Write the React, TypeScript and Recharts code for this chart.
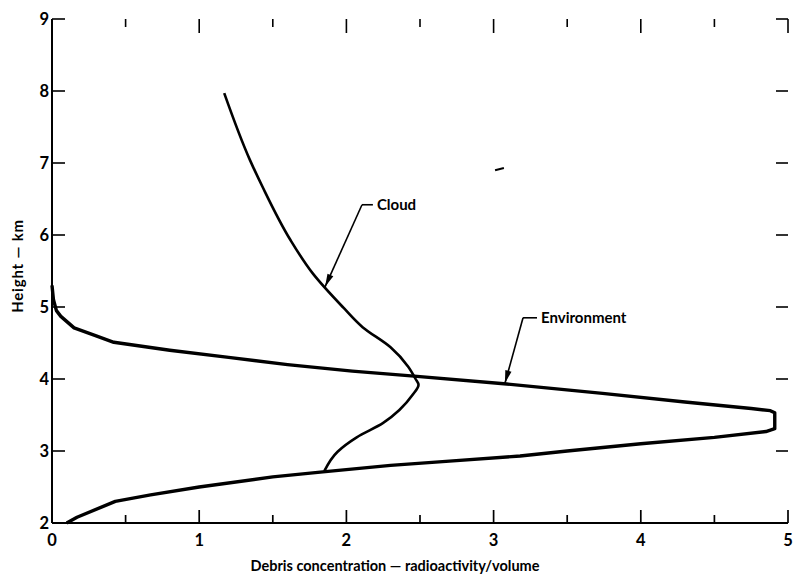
import React from 'react';
import {
  LineChart,
  Line,
  XAxis,
  YAxis,
  ReferenceLine,
  ReferenceDot,
} from 'recharts';

// ---- data ----
const xDomain = [0, 5];
const yDomain = [2, 9];
const xTicks = [0, 0.5, 1, 1.5, 2, 2.5, 3, 3.5, 4, 4.5, 5];
const yTicks = [2, 3, 4, 5, 6, 7, 8, 9];

const environment = [
  { x: 0.0, y: 5.3 }, { x: 0.01, y: 5.1 }, { x: 0.03, y: 4.95 }, { x: 0.06, y: 4.87 },
  { x: 0.15, y: 4.71 }, { x: 0.3, y: 4.6 }, { x: 0.42, y: 4.51 }, { x: 0.8, y: 4.4 },
  { x: 1.2, y: 4.3 }, { x: 1.6, y: 4.2 }, { x: 2.04, y: 4.11 }, { x: 2.46, y: 4.04 },
  { x: 3.09, y: 3.93 }, { x: 3.74, y: 3.8 }, { x: 4.3, y: 3.68 }, { x: 4.75, y: 3.59 },
  { x: 4.88, y: 3.56 }, { x: 4.91, y: 3.53 }, { x: 4.91, y: 3.31 }, { x: 4.85, y: 3.27 },
  { x: 4.5, y: 3.19 }, { x: 4.0, y: 3.1 }, { x: 3.5, y: 3.0 }, { x: 3.18, y: 2.93 },
  { x: 2.7, y: 2.86 }, { x: 2.3, y: 2.8 }, { x: 1.84, y: 2.71 }, { x: 1.5, y: 2.64 },
  { x: 1.0, y: 2.5 }, { x: 0.67, y: 2.39 }, { x: 0.43, y: 2.3 }, { x: 0.17, y: 2.08 },
  { x: 0.1, y: 2.0 },
];

const cloud = [
  { x: 1.17, y: 7.97 }, { x: 1.345, y: 7.04 }, { x: 1.43, y: 6.67 }, { x: 1.62, y: 5.93 },
  { x: 1.77, y: 5.47 }, { x: 1.98, y: 4.99 }, { x: 2.11, y: 4.72 }, { x: 2.3, y: 4.44 },
  { x: 2.42, y: 4.17 }, { x: 2.47, y: 4.0 }, { x: 2.49, y: 3.92 }, { x: 2.45, y: 3.78 },
  { x: 2.36, y: 3.57 }, { x: 2.25, y: 3.39 }, { x: 2.07, y: 3.19 }, { x: 1.94, y: 2.99 },
  { x: 1.85, y: 2.72 },
];

// leader lines: tip on curve -> bend -> end of horizontal stub
const cloudLeader = [{ x: 1.855, y: 5.28 }, { x: 2.106, y: 6.42 }, { x: 2.18, y: 6.42 }];
const envLeader = [{ x: 3.077, y: 3.94 }, { x: 3.2, y: 4.85 }, { x: 3.295, y: 4.85 }];
const strayMark = [{ x: 3.01, y: 6.9 }, { x: 3.07, y: 6.93 }];

const FONT = 'Lato, "DejaVu Sans", sans-serif';

// chart box: plot area = 52..788 x 19..523
const W = 793;
const H = 574;
const LEFT = 52;
const RIGHT_PAD = 5;
const TOP = 19;
const BOTTOM_H = 51;
const PLOT_RIGHT = W - RIGHT_PAD;
const PLOT_BOTTOM = H - BOTTOM_H;

// ---- tick labels ----
function BottomLabel({ x, payload }: any) {
  const cx = payload?.coordinate ?? x;
  if (!Number.isInteger(payload.value)) return <g />;
  return (
    <text x={cx} y={PLOT_BOTTOM + 23} textAnchor="middle" fontFamily={FONT} fontWeight={700} fontSize={16.5} fill="#000">
      {payload.value}
    </text>
  );
}

function LeftLabel({ y, payload }: any) {
  const cy = payload?.coordinate ?? y;
  return (
    <text x={LEFT - 3} y={cy + 6} textAnchor="end" fontFamily={FONT} fontWeight={700} fontSize={16.5} fill="#000">
      {payload.value}
    </text>
  );
}

// inward tick mark hanging from the top edge
function topTickShape(major: boolean) {
  return (p: any) => {
    const hi = Math.min(p.y1, p.y2);
    return <path d={`M${p.x1},${hi}V${hi + (major ? 14 : 8)}`} stroke="#000" strokeWidth={1.6} fill="none" />;
  };
}

// inward tick marks at both ends of a horizontal segment spanning the x domain
function yTickShape(p: any) {
  const l = Math.min(p.x1, p.x2);
  const r = Math.max(p.x1, p.x2);
  return (
    <g>
      <line x1={l} x2={l + 13} y1={p.y1} y2={p.y1} stroke="#000" strokeWidth={1.6} />
      <line x1={r} x2={r - 12} y1={p.y1} y2={p.y1} stroke="#000" strokeWidth={1.6} />
    </g>
  );
}

// bottom edge ticks, pointing up into the plot (overlay on top of the chart)
function BottomTicks() {
  const span = PLOT_RIGHT - LEFT;
  const toPx = (v: number) => LEFT + ((v - xDomain[0]) / (xDomain[1] - xDomain[0])) * span;
  return (
    <svg
      width={W}
      height={H}
      style={{ position: 'absolute', left: 0, top: 0, pointerEvents: 'none', zIndex: 2 }}
    >
      {xTicks.map((v) => {
        const x = toPx(v);
        const len = Number.isInteger(v) ? 13 : 8;
        return <line key={v} x1={x} x2={x} y1={PLOT_BOTTOM} y2={PLOT_BOTTOM - len} stroke="#000" strokeWidth={1.7} />;
      })}
    </svg>
  );
}

function XTitle() {
  return (
    <text
      x={(LEFT + PLOT_RIGHT) / 2 - 25}
      y={PLOT_BOTTOM + 48}
      textAnchor="middle"
      fontFamily={FONT}
      fontWeight={700}
      fontSize={14.5}
      fill="#000"
    >
      Debris concentration — radioactivity/volume
    </text>
  );
}

function YTitle() {
  const cx = 17;
  const cy = (TOP + PLOT_BOTTOM) / 2 - 5;
  return (
    <text
      x={cx}
      y={cy}
      transform={`rotate(-90, ${cx}, ${cy})`}
      textAnchor="middle"
      dominantBaseline="central"
      fontFamily={FONT}
      fontWeight={700}
      fontSize={15}
      letterSpacing={0.8}
      fill="#000"
    >
      Height — km
    </text>
  );
}

// filled arrowhead pointing along (dx, dy) in pixel space
function arrowHead(dx: number, dy: number) {
  return (props: any) => {
    const { cx, cy } = props;
    const len = Math.hypot(dx, dy);
    const ux = dx / len;
    const uy = dy / len;
    const L = 13;
    const w = 3.2;
    const bx = cx - ux * L;
    const by = cy - uy * L;
    const pts = `${cx},${cy} ${bx - uy * w},${by + ux * w} ${bx + uy * w},${by - ux * w}`;
    return <polygon points={pts} fill="#000" />;
  };
}

function noteText(label: string) {
  return (props: any) => (
    <text x={props.cx + 4} y={props.cy + 5} fontFamily={FONT} fontWeight={700} fontSize={15} fill="#000">
      {label}
    </text>
  );
}

const axisLine = { stroke: '#000', strokeWidth: 2 };

export default function App() {
  return (
    <div style={{ position: 'absolute', left: 0, top: 0, width: W, height: H, background: '#fff' }}>
      <LineChart width={W} height={H} margin={{ top: TOP, right: RIGHT_PAD, bottom: 0, left: 0 }}>
        <XAxis
          xAxisId="bottom"
          type="number"
          dataKey="x"
          domain={xDomain}
          ticks={xTicks}
          interval={0}
          height={BOTTOM_H}
          tickLine={false}
          axisLine={axisLine}
          tick={<BottomLabel />}
          label={XTitle}
        />
        <XAxis
          xAxisId="top"
          orientation="top"
          type="number"
          dataKey="x"
          domain={xDomain}
          height={0}
          tickLine={false}
          tick={false}
          axisLine={axisLine}
        />
        <YAxis
          yAxisId="left"
          type="number"
          domain={yDomain}
          ticks={yTicks}
          interval={0}
          width={LEFT}
          tickLine={false}
          axisLine={axisLine}
          tick={<LeftLabel />}
          label={YTitle}
        />
        <YAxis
          yAxisId="right"
          orientation="right"
          type="number"
          domain={yDomain}
          width={0}
          tickLine={false}
          tick={false}
          axisLine={axisLine}
        />

        {/* top edge ticks */}
        {xTicks.map((v) => (
          <ReferenceLine
            key={`xt-${v}`}
            xAxisId="bottom"
            yAxisId="left"
            segment={[{ x: v, y: yDomain[0] }, { x: v, y: yDomain[1] }]}
            ifOverflow="visible"
            shape={topTickShape(Number.isInteger(v))}
          />
        ))}
        {/* left and right edge ticks */}
        {yTicks.map((v) => (
          <ReferenceLine
            key={`yt-${v}`}
            xAxisId="bottom"
            yAxisId="left"
            segment={[{ x: xDomain[0], y: v }, { x: xDomain[1], y: v }]}
            ifOverflow="visible"
            shape={yTickShape}
          />
        ))}

        <Line
          xAxisId="bottom"
          yAxisId="left"
          data={environment}
          dataKey="y"
          type="linear"
          stroke="#000"
          strokeWidth={3.4}
          strokeLinejoin="round"
          dot={false}
          isAnimationActive={false}
        />
        <Line
          xAxisId="bottom"
          yAxisId="left"
          data={cloud}
          dataKey="y"
          type="monotoneY"
          stroke="#000"
          strokeWidth={2.6}
          strokeLinejoin="round"
          dot={false}
          isAnimationActive={false}
        />

        {/* Cloud annotation */}
        <ReferenceLine xAxisId="bottom" yAxisId="left" segment={[cloudLeader[0], cloudLeader[1]]} stroke="#000" strokeWidth={1.6} ifOverflow="visible" />
        <ReferenceLine xAxisId="bottom" yAxisId="left" segment={[cloudLeader[1], cloudLeader[2]]} stroke="#000" strokeWidth={1.6} ifOverflow="visible" />
        <ReferenceDot xAxisId="bottom" yAxisId="left" x={cloudLeader[0].x} y={cloudLeader[0].y} r={0} shape={arrowHead(-37, 82)} />
        <ReferenceDot xAxisId="bottom" yAxisId="left" x={cloudLeader[2].x} y={cloudLeader[2].y} r={0} shape={noteText('Cloud')} />

        {/* Environment annotation */}
        <ReferenceLine xAxisId="bottom" yAxisId="left" segment={[envLeader[0], envLeader[1]]} stroke="#000" strokeWidth={1.6} ifOverflow="visible" />
        <ReferenceLine xAxisId="bottom" yAxisId="left" segment={[envLeader[1], envLeader[2]]} stroke="#000" strokeWidth={1.6} ifOverflow="visible" />
        <ReferenceDot xAxisId="bottom" yAxisId="left" x={envLeader[0].x} y={envLeader[0].y} r={0} shape={arrowHead(-18, 65)} />
        <ReferenceDot xAxisId="bottom" yAxisId="left" x={envLeader[2].x} y={envLeader[2].y} r={0} shape={noteText('Environment')} />

        {/* small stray mark on the original */}
        <ReferenceLine xAxisId="bottom" yAxisId="left" segment={strayMark} stroke="#000" strokeWidth={2} ifOverflow="visible" />
      </LineChart>
      <BottomTicks />
    </div>
  );
}
